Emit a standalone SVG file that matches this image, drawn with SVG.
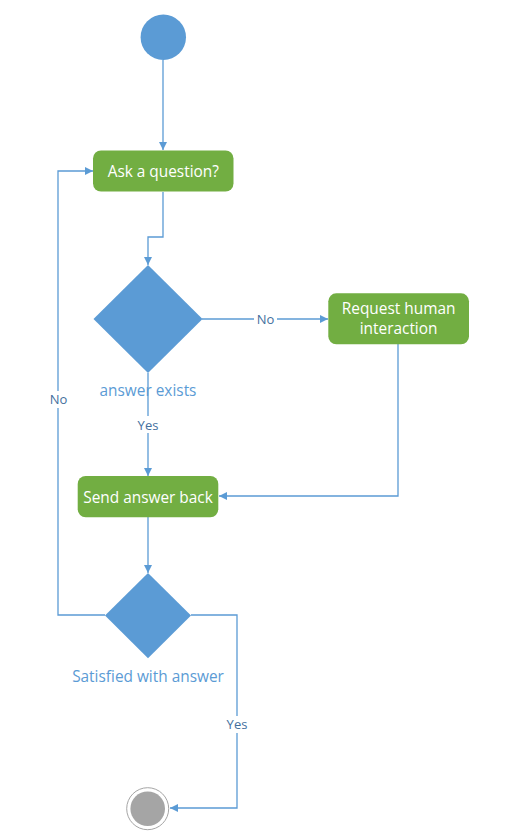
<svg xmlns="http://www.w3.org/2000/svg" width="507" height="839" viewBox="0 0 507 839">
<defs>
<style>
.conn{fill:none;stroke:#5B9BD5;stroke-width:1.3}
.act{fill:#72AE42;stroke:none}
.dec{fill:#5B9BD5;stroke:none}
.t{font-family:"Open Sans","Noto Sans",sans-serif;font-size:15.4px;fill:#FFFFFF;text-anchor:middle}
.dl{font-family:"Open Sans","Noto Sans",sans-serif;font-size:15.4px;fill:#5B9BD5;text-anchor:middle}
.lbl{font-family:"Open Sans","Noto Sans",sans-serif;font-size:13px;fill:#44709E;text-anchor:middle}
.bg{fill:#FFFFFF}
</style>
<marker id="arr" viewBox="0 0 10 10" refX="10" refY="5" markerWidth="8" markerHeight="8" markerUnits="userSpaceOnUse" orient="auto">
<path d="M0,0 L10,5 L0,10 z" fill="#5B9BD5"/>
</marker>
</defs>
<rect width="507" height="839" fill="#FFFFFF"/>
<g id="connectors">
<path class="conn" d="M163,60 V150" marker-end="url(#arr)"/>
<path class="conn" d="M163,192 V237 H148 V265" marker-end="url(#arr)"/>
<path class="conn" d="M202,319 H328" marker-end="url(#arr)"/>
<path class="conn" d="M398,344 V496 H219" marker-end="url(#arr)"/>
<path class="conn" d="M148,373 V476" marker-end="url(#arr)"/>
<path class="conn" d="M148,517 V573" marker-end="url(#arr)"/>
<path class="conn" d="M105,615 H58 V171 H93" marker-end="url(#arr)"/>
<path class="conn" d="M191,615 H237 V808 H170" marker-end="url(#arr)"/>
<rect class="bg" x="254" y="311" width="23" height="17"/>
<text class="lbl" x="265.5" y="324">No</text>
<rect class="bg" x="134" y="416" width="28" height="17"/>
<text class="lbl" x="148" y="429.5">Yes</text>
<rect class="bg" x="47" y="391" width="23" height="17"/>
<text class="lbl" x="58.5" y="404">No</text>
<rect class="bg" x="223" y="716" width="28" height="17"/>
<text class="lbl" x="237" y="729">Yes</text>
</g>
<g id="start">
<circle cx="163.3" cy="37.3" r="22.7" fill="#5B9BD5"/>
</g>
<g id="ask">
<rect class="act" x="93" y="150.5" width="140.5" height="41" rx="8"/>
<text class="t" x="163.3" y="176.5">Ask a question?</text>
</g>
<g id="answerExists">
<polygon class="dec" points="148,265 202.5,319 148,373 93.5,319"/>
<text class="dl" x="148" y="396">answer exists</text>
</g>
<g id="request">
<rect class="act" x="328.3" y="293.3" width="140.7" height="51" rx="8"/>
<text class="t" x="398.6" y="314">Request human</text>
<text class="t" x="398.6" y="334">interaction</text>
</g>
<g id="send">
<rect class="act" x="77.7" y="476" width="140.6" height="41.3" rx="8"/>
<text class="t" x="148" y="502.5">Send answer back</text>
</g>
<g id="satisfied">
<polygon class="dec" points="148,573 191,615.5 148,658.3 105,615.5"/>
<text class="dl" x="148" y="682">Satisfied with answer</text>
</g>
<g id="end">
<circle cx="147.7" cy="808.7" r="21" fill="#FFFFFF" stroke="#A5A5A5" stroke-width="1"/>
<circle cx="147.7" cy="808.7" r="17.3" fill="#A5A5A5"/>
</g>
</svg>
